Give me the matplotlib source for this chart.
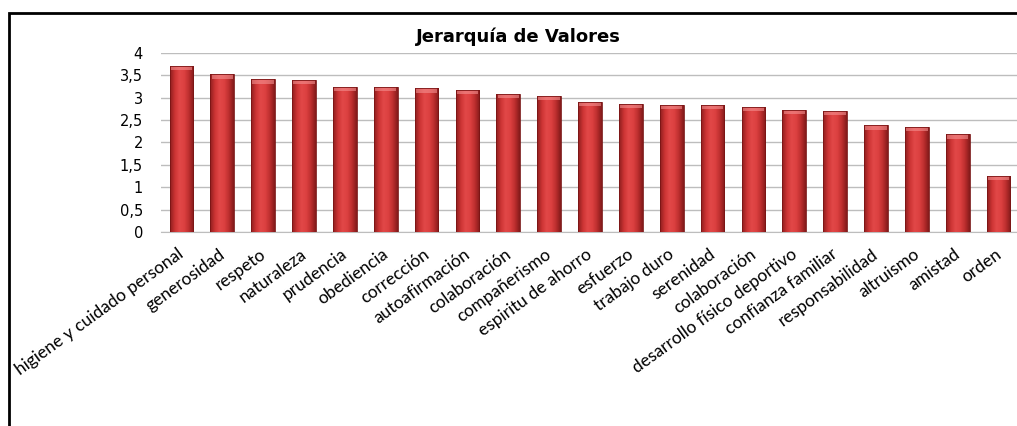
import numpy as np
import matplotlib
matplotlib.use("Agg")
import matplotlib.pyplot as plt
import matplotlib.transforms as mtransforms
from matplotlib.colors import LinearSegmentedColormap
from matplotlib.patches import Rectangle

valores = ["higiene y cuidado personal", "generosidad", "respeto", "naturaleza",
           "prudencia", "obediencia", "corrección", "autoafirmación", "colaboración",
           "compañerismo", "espiritu de ahorro", "esfuerzo", "trabajo duro",
           "serenidad", "colaboración", "desarrollo físico deportivo",
           "confianza familiar", "responsabilidad", "altruismo", "amistad", "orden"]
puntajes = [3.71, 3.52, 3.41, 3.40, 3.24, 3.24, 3.21, 3.17, 3.08, 3.04, 2.90,
            2.86, 2.84, 2.84, 2.79, 2.73, 2.70, 2.38, 2.35, 2.18, 1.26]
yticks = [0, 0.5, 1, 1.5, 2, 2.5, 3, 3.5, 4]
ytick_labels = ["0", "0,5", "1", "1,5", "2", "2,5", "3", "3,5", "4"]

fig = plt.figure(figsize=(10.17, 4.26), dpi=100)
ax = fig.add_axes([161 / 1017, 1 - 232 / 426, (1019 - 161) / 1017, (232 - 52.7) / 426])

x = np.arange(len(valores))
bars = ax.bar(x, puntajes, width=0.58, color="#c83434", linewidth=0, zorder=2)

# shading across each bar, like the cylinder look of the original
cmap = LinearSegmentedColormap.from_list(
    "rojo", ["#8e1e1e", "#cc3434", "#e24848", "#dc4040", "#bc2e2e", "#821a1a"])
grad = np.linspace(0, 1, 64).reshape(1, -1)
for b in bars:
    x0, w, h = b.get_x(), b.get_width(), b.get_height()
    im = ax.imshow(grad, cmap=cmap, aspect="auto", extent=(x0, x0 + w, 0, h),
                   zorder=3, interpolation="bicubic")
    im.set_clip_path(b)
    ax.bar(x0 + w / 2, 0.1, bottom=h - 0.1, width=w * 0.9,
           color="#f49090", alpha=0.6, linewidth=0, zorder=4)
    ax.bar(x0 + w / 2, h, width=w, fill=False, edgecolor="#7a1515",
           linewidth=0.6, zorder=5)

ax.set_xlim(-0.5, len(valores) - 0.5)
ax.set_ylim(0, 4)
ax.set_yticks(yticks)
ax.set_yticklabels(ytick_labels, fontsize=10.5, family="DejaVu Sans")
ax.yaxis.grid(True, color="#bdbdbd", linewidth=1.0, zorder=0)
ax.set_axisbelow(True)
for s in ["top", "right", "left"]:
    ax.spines[s].set_visible(False)
ax.spines["bottom"].set_color("#bdbdbd")
ax.tick_params(axis="both", length=0)
ax.tick_params(axis="y", pad=13)

ax.set_xticks(x)
ax.set_xticklabels(valores, rotation=36, ha="right", rotation_mode="anchor",
                   fontsize=12.5, family="Lato")
offset = mtransforms.ScaledTranslation(-4 / 100, -9 / 100, fig.dpi_scale_trans)
for lbl in ax.get_xticklabels():
    lbl.set_transform(lbl.get_transform() + offset)

fig.text(518 / 1017, 1 - 37 / 426, "Jerarquía de Valores", ha="center", va="center",
         fontsize=13, fontweight="bold", family="DejaVu Sans")

# outer chart frame
fig.patches.append(Rectangle((9 / 1017, -0.1), 1.2, 1.1 - 13 / 426,
                             transform=fig.transFigure, fill=False,
                             edgecolor="black", linewidth=2))

fig.savefig("out.png", dpi=100)
